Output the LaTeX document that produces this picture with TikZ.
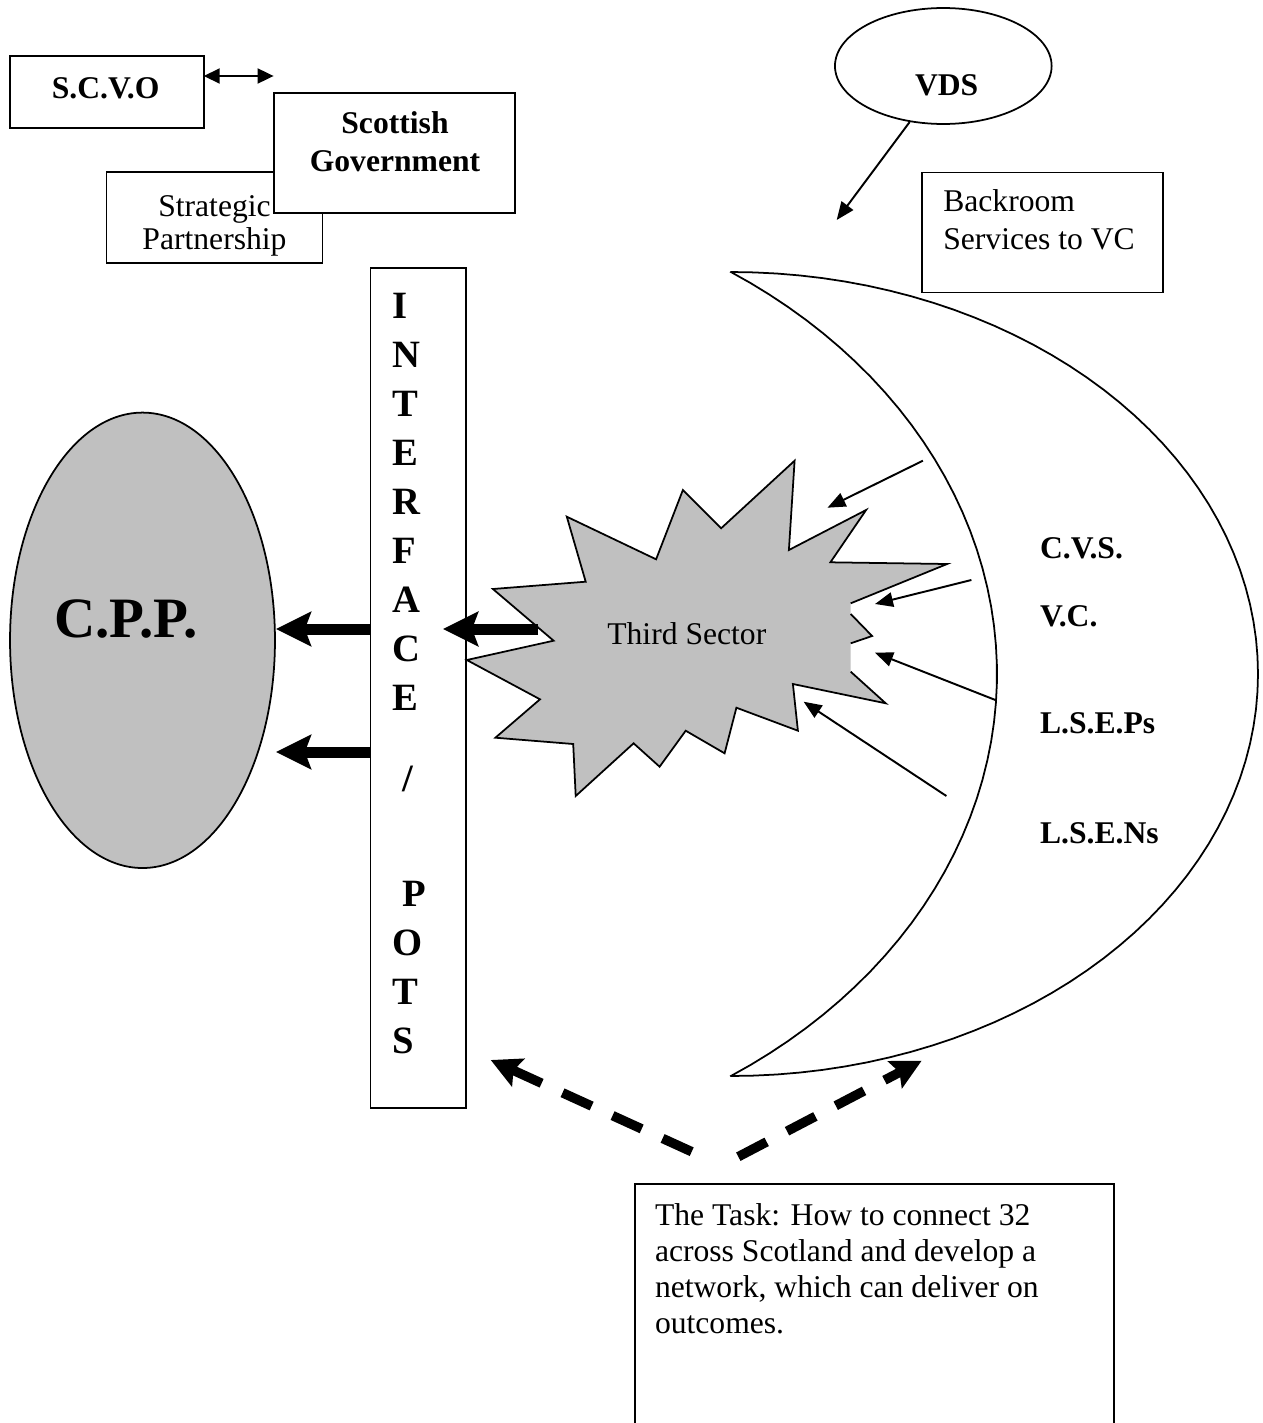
\documentclass[tikz,border=0pt]{standalone}
\usepackage{fontspec}
\setmainfont{Liberation Serif}
\usetikzlibrary{arrows.meta, shapes.geometric}
\definecolor{cppgray}{RGB}{192,192,192}
\newcommand{\bodysize}[1]{\fontsize{18}{#1}\selectfont}
\tikzstyle{whitebox} = [draw=black, fill=white, line width=1pt, inner sep=0, outer sep=0]
\tikzstyle{txt} = [inner sep=0, outer sep=0, font=\bodysize{21.6pt}]
\tikzstyle{boldtxt} = [inner sep=0, outer sep=0, font=\bodysize{21.6pt}\bfseries]
\tikzstyle{letter} = [inner sep=0, outer sep=0, anchor=base west,
    font=\fontsize{22}{26}\selectfont\bfseries]
\tikzstyle{thinarrow} = [line width=1.1pt, -{Triangle[length=0.36cm, width=0.29cm]}]
\tikzstyle{bigarrow} = [line width=0.22cm,
    -{Stealth[length=0.7cm, width=0.68cm, inset=0.12cm]}]
\tikzstyle{dasharrow} = [line width=0.19cm, dash pattern=on 0.64cm off 0.46cm,
    -{Stealth[length=0.6cm, width=0.6cm, inset=0.1cm]}]

\begin{document}
\begin{tikzpicture}[x=0.02cm, y=-0.02cm]
\clip (0,0) rectangle (1262,1423);

%%% top left
\node[whitebox, minimum width=3.874cm, minimum height=1.452cm] (scvo) at (106.9,92) {};
\node[boldtxt, anchor=base] (scvot) at (105.6,98.3) {S.C.V.O};
\node[whitebox, minimum width=4.324cm, minimum height=1.82cm] (strat) at (214.5,217.8) {};
\node[txt, anchor=base, font=\bodysize{18.8pt}] (stratt) at (214.5,216.7)
    {\begin{tabular}[t]{@{}c@{}}Strategic\\Partnership\end{tabular}};
\node[whitebox, minimum width=4.832cm, minimum height=2.4cm] (govt) at (394.4,153.3) {};
\node[boldtxt, anchor=base, font=\bodysize{21.85pt}\bfseries] (govtt) at (395,133.3)
    {\begin{tabular}[t]{@{}c@{}}Scottish\\Government\end{tabular}};
\coordinate (sgend) at (273.6,76);
\draw[line width=1.1pt, {Triangle[length=0.32cm, width=0.3cm]}-{Triangle[length=0.32cm, width=0.3cm]}]
    (scvo.east |- sgend) -- (sgend);

%%% top right
\node[draw, ellipse, line width=1pt, inner sep=0, minimum width=4.334cm, minimum height=2.32cm] (vds) at (943.3,66) {};
\node[boldtxt, anchor=base] (vdst) at (946.7,95) {VDS};
\coordinate (vdsend) at (836.7,220);
\draw[thinarrow] (vds.239) -- (vdsend);
\node[whitebox, minimum width=4.832cm, minimum height=2.4cm] (backroom) at (1042.5,232.5) {};
\node[txt, anchor=base west] (backroomt) at (943.3,211.7)
    {\begin{tabular}[t]{@{}l@{}}Backroom\\Services to VC\end{tabular}};

%%% C.P.P. and interface
\node[draw, ellipse, fill=cppgray, line width=1pt, inner sep=0, minimum width=5.3cm, minimum height=9.11cm] (cpp) at (142.5,640.3) {};
\node[inner sep=0, anchor=base, font=\fontsize{32.5}{36}\selectfont\bfseries] (cppt) at (126,637) {C.P.P.};
\node[whitebox, minimum width=1.91cm, minimum height=16.8cm] (iface) at (418.25,688) {};
\foreach \ch/\xx/\yy [count=\i] in {I/392/318, N/392/367, T/392/416, E/392/465, R/392/514,
    F/392/563, A/392/612, C/392/661, E/392/710, \slash/402/791, P/402/906, O/392/955,
    T/392/1004, S/392/1053}
  \node[letter] (L\i) at (\xx,\yy) {\ch};

\coordinate (row1) at (0,629);
\coordinate (row2) at (0,752);
\draw[bigarrow] (iface.west |- row1) -- (cpp.east |- row1);
\draw[bigarrow] (iface.west |- row2) -- (cpp.east |- row2);

%%% crescent
\draw[line width=1pt] plot[domain=90:-90, samples=73, variable=\t] ({731+527*cos(\t)}, {674-402*sin(\t)})
    -- plot[domain=-56.33:56.33, samples=50, variable=\t] ({400+597*cos(\t)}, {674-483*sin(\t)}) -- cycle;
\node[boldtxt, anchor=base west] (cvs) at (1040,558) {C.V.S.};
\node[boldtxt, anchor=base west] (vc) at (1040,626) {V.C.};
\node[boldtxt, anchor=base west] (lseps) at (1040,733) {L.S.E.Ps};
\node[boldtxt, anchor=base west] (lsens) at (1040,843) {L.S.E.Ns};

%%% third sector burst
\fill[cppgray] (566.8,516.7) -- (656.1,559.3) -- (682.9,490) -- (721.1,528.3) -- (794.6,460.7)
    -- (788.9,550) -- (866.1,510) -- (830.4,562.3) -- (947.1,564) -- (850.7,603.3) -- (850.7,614)
    -- (872.1,636) -- (850.7,643.3) -- (850.7,671.7) -- (885.7,703.3) -- (792.9,684) -- (797.9,730.7)
    -- (736.4,707.7) -- (724.6,753.3) -- (685.7,730.7) -- (659.6,766.7) -- (633.6,743.3) -- (575.7,796)
    -- (573.2,744) -- (495.4,737.7) -- (540,699.3) -- (466.8,660) -- (553.6,640.7) -- (492.9,589)
    -- (585.7,581.7) -- cycle;
\draw[line width=1pt] (850.7,671.7) -- (885.7,703.3) -- (792.9,684) -- (797.9,730.7) -- (736.4,707.7)
    -- (724.6,753.3) -- (685.7,730.7) -- (659.6,766.7) -- (633.6,743.3) -- (575.7,796) -- (573.2,744)
    -- (495.4,737.7) -- (540,699.3) -- (466.8,660) -- (553.6,640.7) -- (492.9,589) -- (585.7,581.7)
    -- (566.8,516.7) -- (656.1,559.3) -- (682.9,490) -- (721.1,528.3) -- (794.6,460.7) -- (788.9,550)
    -- (866.1,510) -- (830.4,562.3) -- (947.1,564) -- (850.7,603.3);
\draw[line width=1pt] (850.7,614) -- (872.1,636) -- (850.7,643.3);
\node[txt, anchor=base] (third) at (686.8,644) {Third Sector};

\coordinate (tsout) at (538,629);
\coordinate (tsin) at (443,629);
\draw[bigarrow] (tsout) -- (tsin);

%%% arrows into the burst
\coordinate (c1s) at (922.9,460.7);  \coordinate (c1e) at (827.5,507.7);
\coordinate (c2s) at (971.4,580);    \coordinate (c2e) at (875,604);
\coordinate (c3s) at (995.4,700);    \coordinate (c3e) at (875,652.7);
\coordinate (c4s) at (946.4,796);    \coordinate (c4e) at (803.6,701.7);
\foreach \n in {1,2,3,4}
  \draw[thinarrow] (c\n s) -- (c\n e);

%%% the task
\node[whitebox, minimum width=9.58cm, minimum height=5.52cm] (task) at (874.5,1322) {};
\node[txt, anchor=base west, font=\bodysize{20.5pt}] (taskt) at (655,1225)
    {\begin{tabular}[t]{@{}l@{}}The Task: How to connect 32\\across Scotland and develop a\\
    network, which can deliver on\\outcomes.\end{tabular}};
\coordinate (taskl) at (691.7,1151.7);
\coordinate (taskr) at (738.3,1156.7);
\coordinate (dashl) at (490.7,1060);
\coordinate (dashr) at (921.7,1060.7);
\draw[dasharrow] (taskl) -- (dashl);
\draw[dasharrow] (taskr) -- (dashr);

\end{tikzpicture}
\end{document}
